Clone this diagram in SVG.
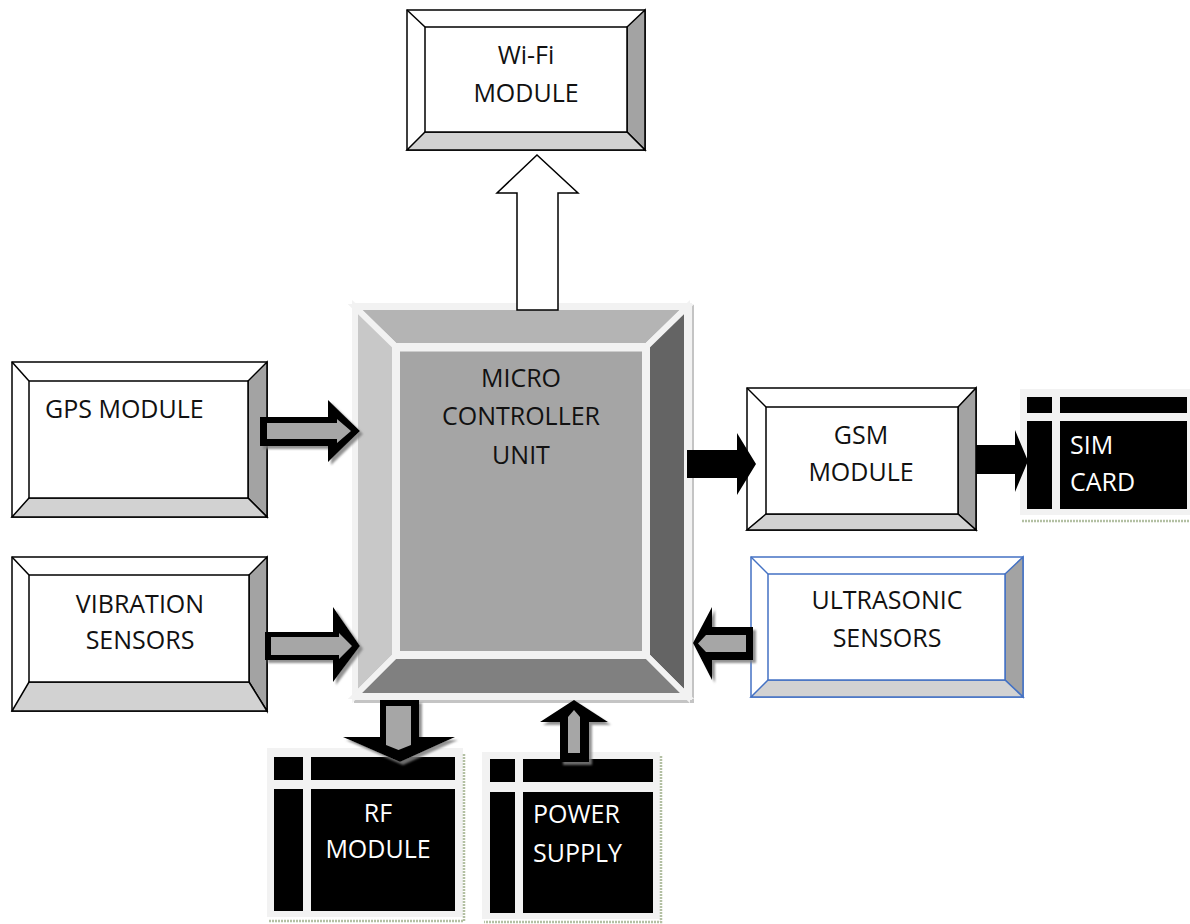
<svg xmlns="http://www.w3.org/2000/svg" width="1190" height="924" viewBox="0 0 1190 924">
  <defs>
    <filter id="shade" x="-20%" y="-20%" width="150%" height="150%">
      <feDropShadow dx="3" dy="3" stdDeviation="0.8" flood-color="#7f7f7f" flood-opacity="0.85"/>
    </filter>
  </defs>
  <style>
    .txt { font-family: "Open Sans", "Liberation Sans", sans-serif; font-size: 25px; fill: #111; }
    .mid { text-anchor: middle; }
    .wt { fill: #fff; }
    .bx { fill: #fff; stroke: #000; stroke-width: 1.5; stroke-linejoin: miter; }
    .bx-r { fill: #a3a3a3; stroke: #000; stroke-width: 1.5; }
    .bx-b { fill: #d2d2d2; stroke: #000; stroke-width: 1.5; }
    .ln { fill: none; stroke: #000; stroke-width: 1.5; }
    .blue .bx, .blue .bx-r, .blue .bx-b, .blue .ln { stroke: #4472c4; }
    .card-bg { fill: #f2f2f2; }
    .card { fill: #000; }
    .edge { fill: none; stroke: #b3c0a3; stroke-width: 2.5; stroke-dasharray: 2 1; }
    .a-out { fill: #000; }
    .a-in { fill: #a6a6a6; }
    .a-white { fill: #fff; stroke: #000; stroke-width: 1.5; }
  </style>

  <!-- Wi-Fi module -->
  <g id="wifi">
    <rect class="bx" x="407" y="10" width="238" height="140"/>
    <polygon class="bx-r" points="645,10 645,150 627,132 627,27"/>
    <polygon class="bx-b" points="407,150 645,150 627,132 425,132"/>
    <path class="ln" d="M407,10 L425,27"/>
    <rect class="bx" x="425" y="27" width="202" height="105"/>
    <text class="txt mid" x="526" y="64">Wi-Fi</text>
    <text class="txt mid" x="526" y="102">MODULE</text>
  </g>

  <!-- Micro controller unit -->
  <g id="mcu">
    <rect x="354" y="305" width="340" height="398" fill="#c4c4c4"/>
    <rect x="352" y="303" width="340" height="397" fill="#f2f2f2"/>
    <g stroke="#f2f2f2" stroke-width="6" stroke-linejoin="miter">
      <polygon points="355,307 687,307 647,346 395,346" fill="#b4b4b4"/>
      <polygon points="355,307 395,346 395,656 355,696" fill="#c8c8c8"/>
      <polygon points="687,307 687,696 647,656 647,346" fill="#646464"/>
      <polygon points="355,696 395,656 647,656 687,696" fill="#808080"/>
    </g>
    <rect x="400" y="351.5" width="242" height="299.5" fill="#a5a5a5"/>
    <text class="txt mid" x="521" y="387">MICRO</text>
    <text class="txt mid" x="521" y="425">CONTROLLER</text>
    <text class="txt mid" x="521" y="464">UNIT</text>
  </g>

  <!-- GPS module -->
  <g id="gps">
    <rect class="bx" x="12" y="362" width="255" height="155"/>
    <polygon class="bx-r" points="267,362 267,517 248,498 248,381"/>
    <polygon class="bx-b" points="12,517 267,517 248,498 29,498"/>
    <path class="ln" d="M12,362 L29,381"/>
    <rect class="bx" x="29" y="381" width="219" height="117"/>
    <text class="txt" x="45" y="418">GPS MODULE</text>
  </g>

  <!-- Vibration sensors -->
  <g id="vibration">
    <rect class="bx" x="12" y="557" width="255" height="154"/>
    <polygon class="bx-r" points="267,557 267,711 249,682 249,575"/>
    <polygon class="bx-b" points="12,711 267,711 249,682 29,682"/>
    <path class="ln" d="M12,557 L29,575"/>
    <rect class="bx" x="29" y="575" width="220" height="107"/>
    <text class="txt mid" x="140" y="613">VIBRATION</text>
    <text class="txt mid" x="140" y="649">SENSORS</text>
  </g>

  <!-- GSM module -->
  <g id="gsm">
    <rect class="bx" x="747" y="388" width="229" height="142"/>
    <polygon class="bx-r" points="976,388 976,530 958,514 958,407"/>
    <polygon class="bx-b" points="747,530 976,530 958,514 766,514"/>
    <path class="ln" d="M747,388 L766,407"/>
    <rect class="bx" x="766" y="407" width="192" height="107"/>
    <text class="txt mid" x="861" y="444">GSM</text>
    <text class="txt mid" x="861" y="481">MODULE</text>
  </g>

  <!-- Ultrasonic sensors -->
  <g id="ultrasonic" class="blue">
    <rect class="bx" x="751" y="557" width="272" height="140"/>
    <polygon class="bx-r" points="1023,557 1023,697 1005,680 1005,574"/>
    <polygon class="bx-b" points="751,697 1023,697 1005,680 768,680"/>
    <path class="ln" d="M751,557 L768,574"/>
    <rect class="bx" x="768" y="574" width="237" height="106"/>
    <text class="txt mid" x="887" y="609">ULTRASONIC</text>
    <text class="txt mid" x="887" y="647">SENSORS</text>
  </g>

  <!-- SIM card -->
  <g id="sim">
    <rect class="card-bg" x="1020" y="389" width="170" height="126"/>
    <path class="edge" d="M1022,521 H1190"/>
    <rect class="card" x="1027" y="397" width="25" height="16"/>
    <rect class="card" x="1060" y="397" width="127" height="16"/>
    <rect class="card" x="1027" y="421" width="25" height="88"/>
    <rect class="card" x="1060" y="421" width="127" height="88"/>
    <text class="txt wt" x="1070" y="454">SIM</text>
    <text class="txt wt" x="1070" y="491">CARD</text>
  </g>

  <!-- RF module -->
  <g id="rf">
    <rect class="card-bg" x="267" y="748" width="196" height="169"/>
    <path class="edge" d="M464,754 V921 H268"/>
    <rect class="card" x="274" y="757" width="29" height="23"/>
    <rect class="card" x="311" y="757" width="144" height="23"/>
    <rect class="card" x="274" y="789" width="29" height="122"/>
    <rect class="card" x="311" y="789" width="144" height="122"/>
    <text class="txt mid wt" x="378" y="822">RF</text>
    <text class="txt mid wt" x="378" y="858">MODULE</text>
  </g>

  <!-- Power supply -->
  <g id="power">
    <rect class="card-bg" x="482" y="752" width="178" height="167"/>
    <path class="edge" d="M661,756 V922 H484"/>
    <rect class="card" x="490" y="759" width="25" height="23"/>
    <rect class="card" x="523" y="759" width="130" height="23"/>
    <rect class="card" x="490" y="792" width="25" height="121"/>
    <rect class="card" x="523" y="792" width="130" height="121"/>
    <text class="txt wt" x="533" y="823">POWER</text>
    <text class="txt wt" x="533" y="862">SUPPLY</text>
  </g>

  <!-- Connectors -->
  <g id="connectors">
    <!-- MCU to Wi-Fi -->
    <polygon class="a-white" points="517,310 517,193 497,193 537,155 578,193 558,193 558,310"/>
    <!-- GPS to MCU -->
    <g>
      <polygon class="a-out" filter="url(#shade)" points="260,417 328,417 328,400 360,431 328,462 328,446 260,446"/>
      <polygon class="a-in" points="267,423 337,423 337,419 351,431 337,443 337,439 267,439"/>
    </g>
    <!-- Vibration to MCU -->
    <g>
      <polygon class="a-out" filter="url(#shade)" points="265,632 333,632 333,607 360,646 333,682 333,660 265,660"/>
      <polygon class="a-in" points="271,637 339,637 339,633 352,646 339,659 339,655 271,655"/>
    </g>
    <!-- Ultrasonic to MCU -->
    <g>
      <polygon class="a-out" filter="url(#shade)" points="753,627 712,627 712,607 693,643 712,680 712,660 753,660"/>
      <polygon class="a-in" points="746,635 706,635 698,643.5 706,652 746,652"/>
    </g>
    <!-- MCU to RF module -->
    <g>
      <polygon class="a-out" filter="url(#shade)" points="380,700 419,700 419,737 455,737 400,762 343,737 380,737"/>
      <polygon class="a-in" points="386,706 411,706 411,745 398.5,750 386,745"/>
    </g>
    <!-- Power supply to MCU -->
    <g>
      <polygon class="a-out" filter="url(#shade)" points="560,762 589,762 589,722 608,722 574,700 540,722 560,722"/>
      <polygon class="a-in" points="568,717 574,710 580,717 580,753 568,753"/>
    </g>
    <!-- MCU to GSM -->
    <polygon class="a-out" points="687,450 737,450 737,433 756,464 737,495 737,478 687,478"/>
    <!-- GSM to SIM card -->
    <polygon class="a-out" points="976,445 1015,445 1015,430 1028,461 1015,492 1015,474 976,474"/>
  </g>
</svg>
